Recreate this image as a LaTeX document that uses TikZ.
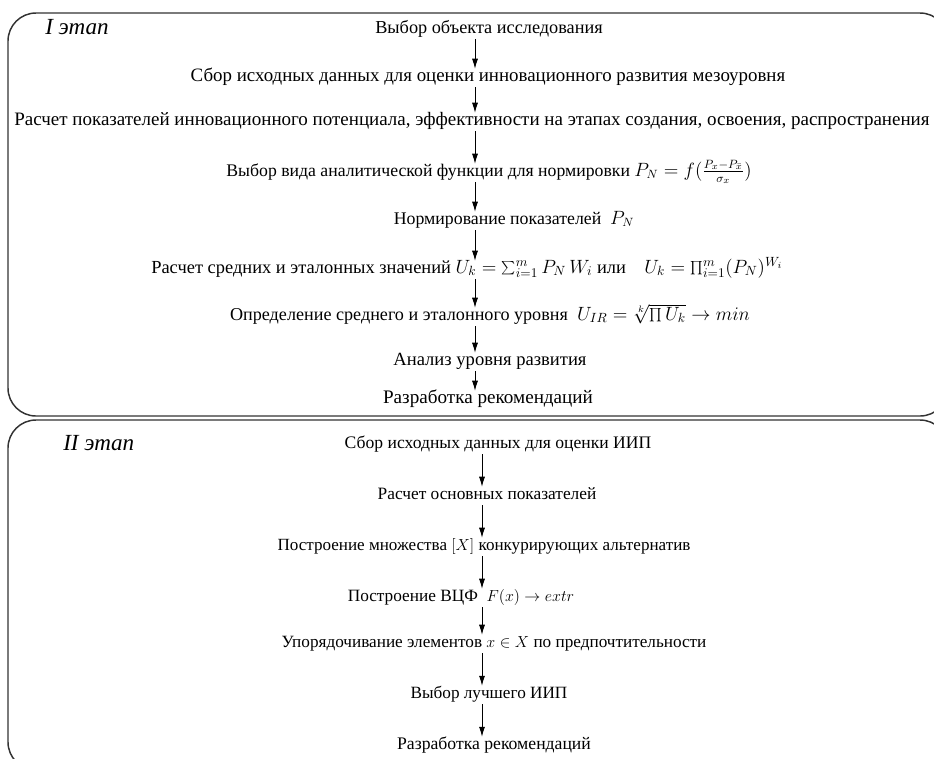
\documentclass[tikz,border=0pt]{standalone}
\usepackage{fontspec}
\setmainfont{Liberation Serif}
\usetikzlibrary{arrows.meta,calc}
\begin{document}
\begin{tikzpicture}[x=0.75pt,y=-0.75pt,
  stepbox/.style={inner sep=0pt,text height=9pt,text depth=3pt,font=\fontsize{#1}{#1}\selectfont},
  stepbox/.default=13,
  stagelbl/.style={inner sep=0pt,font=\fontsize{17.3}{19}\selectfont\itshape},
  arr/.style={-{Latex[length=7.5pt,width=4.5pt]},line width=0.6pt,shorten <=1.5pt},
  frame/.style={draw=black!80,line width=1.1pt,rounded corners=21pt}]
\useasboundingbox (0,0) rectangle (934,758);
\begin{scope}
\clip (0,0) rectangle (934,758);
\draw[frame] (8,13) rectangle (948,416);
\draw[frame] (8,420) rectangle (948,770);
\end{scope}
\coordinate (c1) at (475,0);
\coordinate (c2) at (482,0);
% Stage I
\node[stagelbl,anchor=west] (s1) at (45,27) {I этап};
\node[stepbox=13.7] (t1) at (489,29) {Выбор объекта исследования};
\node[stepbox=14.17] (t2) at (488,77) {Сбор исходных данных для оценки инновационного развития мезоуровня};
\node[stepbox=14.24] (t3) at (472,121) {Расчет показателей инновационного потенциала, эффективности на этапах создания, освоения, распространения};
\node[stepbox=13.29] (t4) at (489,172) {Выбор вида аналитической функции для нормировки $P_N=f(\frac{P_x-P_{\bar x}}{\sigma_x})$};
\node[stepbox=13.34] (t5) at (514,220) {Нормирование показателей\ \ $P_N$};
\node[stepbox=13.83] (t6) at (467,269) {Расчет средних и эталонных значений $U_k=\sum_{i=1}^m P_N\,W_i$ или\quad $U_k=\prod_{i=1}^m(P_N)^{W_i}$};
\node[stepbox=13.6] (t7) at (490,316) {Определение среднего и эталонного уровня\ \ $U_{IR}=\sqrt[k]{\prod U_k}\to min$};
\node[stepbox=13.95] (t8) at (490,361) {Анализ уровня развития};
\node[stepbox=14.35] (t9) at (488,399) {Разработка рекомендаций};
\foreach \a/\b in {t1/t2,t2/t3,t3/t4,t4/t5,t5/t6,t6/t7,t7/t8,t8/t9}
  \draw[arr] (\a.south -| c1) -- (\b.north -| c1);
% Stage II
\node[stagelbl,anchor=west] (s2) at (63,443) {II этап};
\node[stepbox=13.2] (u1) at (498,444) {Сбор исходных данных для оценки ИИП};
\node[stepbox=13.0] (u2) at (487,495) {Расчет основных показателей};
\node[stepbox=12.8] (u3) at (484,546) {Построение множества $[X]$ конкурирующих альтернатив};
\node[stepbox=12.95] (u4) at (461,597) {Построение ВЦФ\ \ $F(x)\to extr$};
\node[stepbox=12.9] (u5) at (494,643) {Упорядочивание элементов $x\in X$ по предпочтительности};
\node[stepbox=12.9] (u6) at (489,694) {Выбор лучшего ИИП};
\node[stepbox=13.25] (u7) at (494,745) {Разработка рекомендаций};
\foreach \a/\b in {u1/u2,u2/u3,u3/u4,u4/u5,u5/u6,u6/u7}
  \draw[arr] (\a.south -| c2) -- (\b.north -| c2);
\end{tikzpicture}
\end{document}
